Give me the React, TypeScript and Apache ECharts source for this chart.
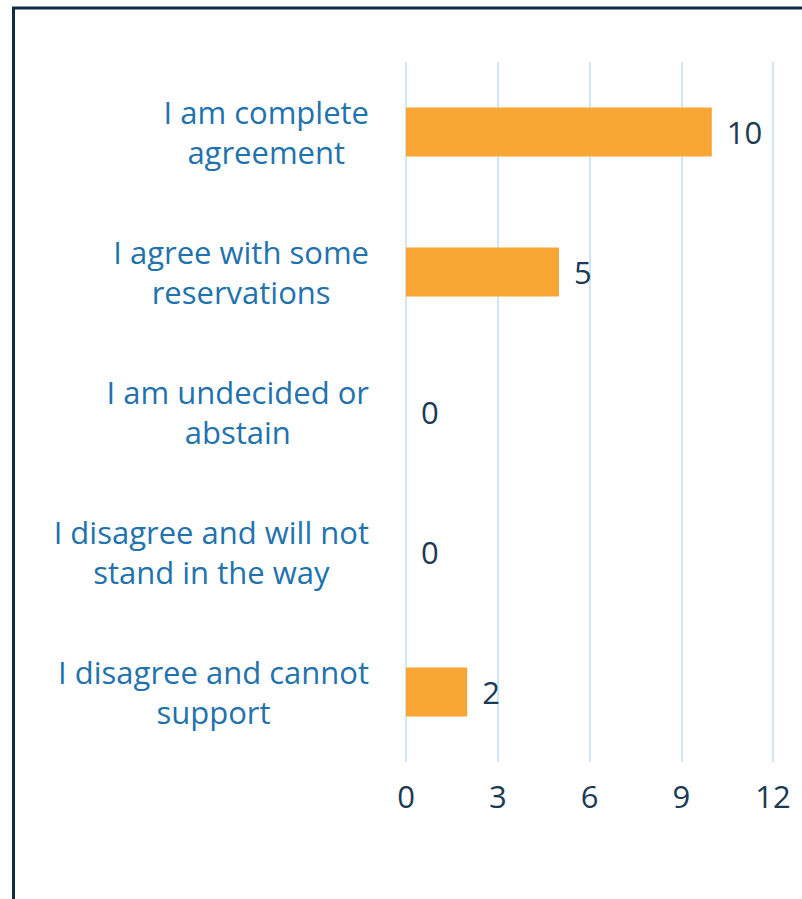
import React, { useEffect, useRef } from "react";
import * as echarts from "echarts";

const categories: string[] = [
  "I am complete\nagreement",
  "I agree with some\nreservations",
  "I am undecided or\nabstain",
  "I disagree and will not\nstand in the way",
  "I disagree and cannot\nsupport",
];
const values: number[] = [10, 5, 0, 0, 2];
const axisMin = 0;
const axisMax = 12;
const axisInterval = 3;

const FONT = "Open Sans";

export default function App() {
  const ref = useRef<HTMLDivElement>(null);
  useEffect(() => {
    document.body.style.margin = "0";
    const chart = echarts.init(ref.current!, undefined, { renderer: "svg" });
    chart.setOption({
      animation: false,
      backgroundColor: "#ffffff",
      graphic: [
        {
          type: "rect",
          shape: { x: 13.5, y: 8, width: 1200, height: 1200 },
          style: { fill: "none", stroke: "#0f2d45", lineWidth: 3 },
          silent: true,
        },
      ],
      grid: { left: 406, right: 29, top: 62, bottom: 137, containLabel: false },
      xAxis: {
        type: "value",
        min: axisMin,
        max: axisMax,
        interval: axisInterval,
        axisLine: { show: false },
        axisTick: { show: false },
        splitLine: { show: true, lineStyle: { color: "#cfe6f6", width: 2 } },
        axisLabel: { fontFamily: FONT, fontSize: 31, color: "#1b3a55", margin: 18 },
      },
      yAxis: {
        type: "category",
        inverse: true,
        data: categories,
        axisLine: { show: false },
        axisTick: { show: false },
        splitLine: { show: false },
        axisLabel: {
          margin: 37,
          formatter: (v: string) =>
            v.split("\n").map((l) => `{c|${l}}`).join("\n"),
          rich: {
            c: {
              align: "center",
              fontFamily: FONT,
              fontSize: 31,
              lineHeight: 40,
              color: "#2272ae",
            },
          },
        },
      },
      series: [
        {
          type: "bar",
          data: values,
          barWidth: "35%",
          itemStyle: { color: "#f9a533" },
          label: {
            show: true,
            position: "right",
            distance: 15,
            fontFamily: FONT,
            fontSize: 31,
            color: "#1b3a55",
          },
        },
      ],
    });
    return () => chart.dispose();
  }, []);
  return <div ref={ref} style={{ width: 802, height: 899 }} />;
}
